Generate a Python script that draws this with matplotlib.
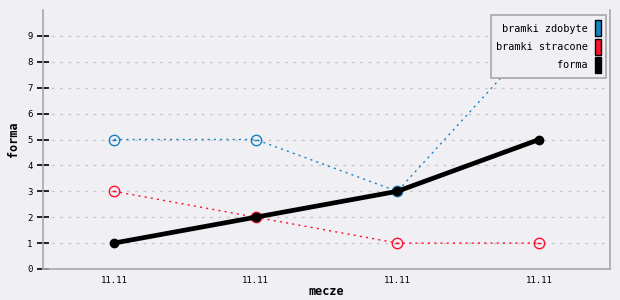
import matplotlib
matplotlib.use("Agg")
import matplotlib.pyplot as plt
from matplotlib.patches import Patch

# data
labels = ["11.11", "11.11", "11.11", "11.11"]
scored = [5, 5, 3, 9]      # bramki zdobyte
conceded = [3, 2, 1, 1]    # bramki stracone
form = [1, 2, 3, 5]        # forma

BG = "#efeff4"
BLUE = "#1683c0"
RED = "#ff1030"
GRID = "#c8c8cc"
SPINE = "#a8a8a8"

plt.rcParams["font.family"] = "DejaVu Sans Mono"

fig = plt.figure(figsize=(6.2, 3.0), dpi=100, facecolor=BG)
ax = fig.add_axes([43 / 620, 31 / 300, 567 / 620, 259 / 300], facecolor=BG)

x = list(range(len(labels)))

ax.plot(x, scored, ls=(0, (1.5, 3)), lw=1, color=BLUE, marker="o", ms=7.5,
        mfc="none", mec=BLUE, mew=1, zorder=3)
ax.plot(x, scored, ls="none", marker="_", ms=3, color=BLUE, zorder=3)
ax.plot(x, conceded, ls=(0, (1.5, 3)), lw=1, color=RED, marker="o", ms=7.5,
        mfc="none", mec=RED, mew=1, zorder=3)
ax.plot(x, conceded, ls="none", marker="_", ms=3, color=RED, zorder=3)
ax.plot(x, form, ls="-", lw=3.4, color="black", marker="o", ms=6,
        solid_capstyle="butt", zorder=4)

ax.set_xlim(-0.5, 3.5)
ax.set_ylim(0, 10)
ax.set_yticks(range(0, 10))
ax.set_xticks(x)
ax.set_xticklabels(labels)

for y in range(1, 10):
    ax.axhline(y, color=GRID, lw=1, ls=(0, (2, 4)), zorder=1)

for side in ["left", "bottom", "right"]:
    ax.spines[side].set_color(SPINE)
    ax.spines[side].set_linewidth(1.2)
ax.spines["top"].set_visible(False)

ax.tick_params(axis="y", direction="inout", length=9, width=1.2, color="black",
               labelsize=6.5, pad=3)
ax.tick_params(axis="x", length=0, labelsize=6.5, pad=5)

ax.set_xlabel("mecze", fontsize=8.5, fontweight="bold", labelpad=0)
ax.set_ylabel("forma", fontsize=8.5, fontweight="bold", labelpad=5)

handles = [Patch(facecolor=BLUE, edgecolor="black", lw=1),
           Patch(facecolor=RED, edgecolor="black", lw=1),
           Patch(facecolor="black", edgecolor="black", lw=1)]
leg = ax.legend(handles, ["bramki zdobyte", "bramki stracone", "forma"],
                loc="upper right", bbox_to_anchor=(0.993, 0.98),
                markerfirst=False, fontsize=7.4, handlelength=0.6,
                handleheight=2.0, labelspacing=0.25, handletextpad=0.7,
                borderpad=0.5, borderaxespad=0, fancybox=False,
                framealpha=1, facecolor=BG, edgecolor=SPINE)
leg.get_frame().set_linewidth(1.2)
leg.set_zorder(10)

fig.savefig("out.png", dpi=100, facecolor=BG)
